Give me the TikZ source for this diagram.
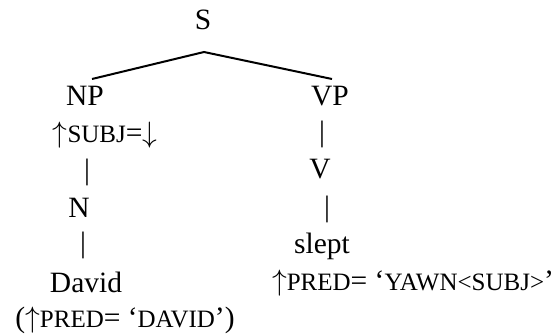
\documentclass[tikz,border=0pt]{standalone}
\usepackage{fix-cm}
\usepackage{fontspec}
\setmainfont{Liberation Serif}
\newcommand\smcp[1]{{\fontsize{25}{26}\selectfont #1}}
\newcommand\uarr{\ensuremath{\uparrow}}
\newcommand\darr{\ensuremath{\downarrow}}
\tikzset{
  lbl/.style={anchor=base, inner sep=0pt, font=\fontsize{29.5}{30}\selectfont},
  edge/.style={line width=2pt}
}
\begin{document}
\begin{tikzpicture}[x=1pt,y=-1pt]
\useasboundingbox (0,0) rectangle (554,335);
\node[lbl] (S) at (203,29) {S};
\node[lbl] (NP) at (85,105) {NP};
\node[lbl] (VP) at (330,105) {VP};
\node[lbl] (subj) at (105,142) {\uarr\smcp{SUBJ}=\darr};
\node[lbl] (b1) at (87,179) {|};
\node[lbl] (N) at (79,217) {N};
\node[lbl] (b2) at (83,252) {|};
\node[lbl] (David) at (86,292) {David};
\node[lbl] (dpred) at (125,327) {(\uarr\smcp{PRED}= ‘\smcp{DAVID}’)};
\node[lbl] (b3) at (322,141) {|};
\node[lbl] (V) at (320,178) {V};
\node[lbl] (b4) at (327,216) {|};
\node[lbl] (slept) at (322,253) {slept};
\node[lbl] (ypred) at (413,290) {\uarr\smcp{PRED}= ‘\smcp{YAWN<SUBJ>}’};
\coordinate (top) at (204,52);
\coordinate (npt) at (92,79);
\coordinate (vpt) at (332,79);
\draw[edge] (npt) -- (top) -- (vpt);
\end{tikzpicture}
\end{document}
